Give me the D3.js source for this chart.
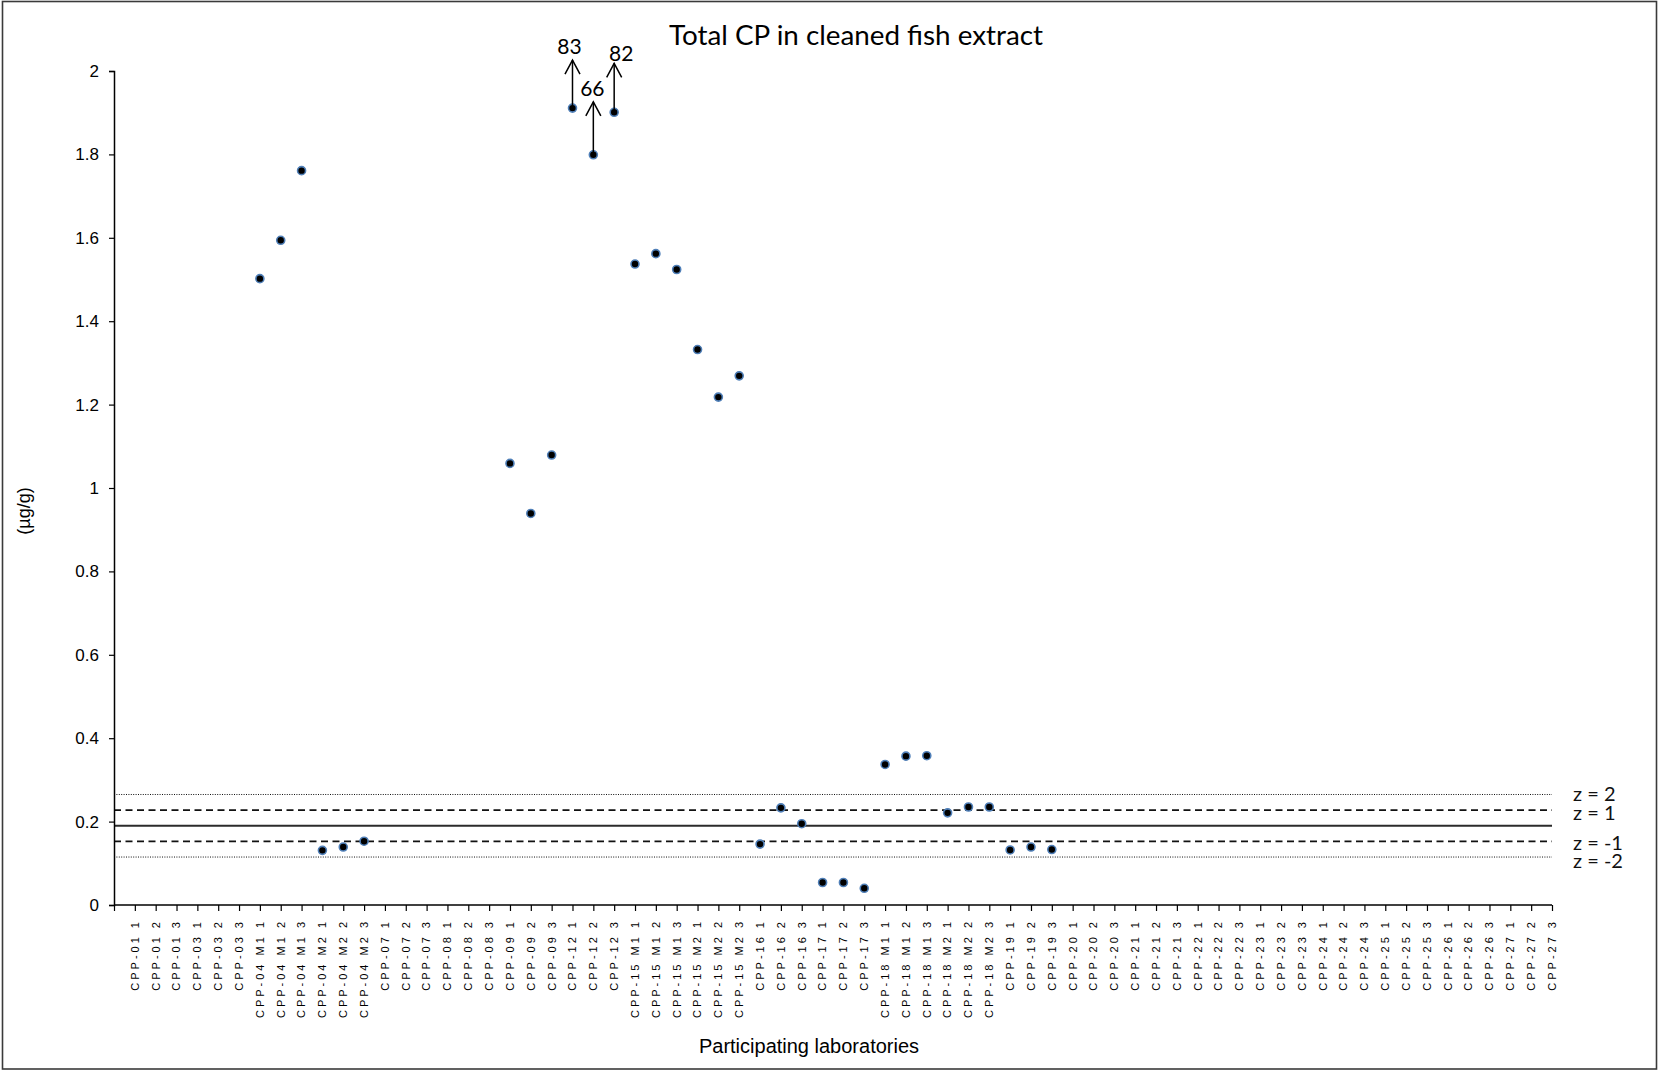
<!DOCTYPE html>
<html>
<head>
<meta charset="utf-8">
<script src="https://cdn.jsdelivr.net/npm/d3@7"></script>
<style>
  body { margin: 0; background: #fff; }
  svg { display: block; }
</style>
</head>
<body>
<div id="chart"></div>
<script>
// labs and replicate numbers -> category labels on the x axis
const labs = ["CPP-01", "CPP-03", "CPP-04 M1", "CPP-04 M2", "CPP-07", "CPP-08", "CPP-09", "CPP-12",
  "CPP-15 M1", "CPP-15 M2", "CPP-16", "CPP-17", "CPP-18 M1", "CPP-18 M2", "CPP-19", "CPP-20",
  "CPP-21", "CPP-22", "CPP-23", "CPP-24", "CPP-25", "CPP-26", "CPP-27"];
const replicates = [1, 2, 3];
const categories = labs.flatMap(l => replicates.map(r => l + " " + r));

// plotted value for every category (null = not reported)
const values = [
  null, null, null,        // CPP-01
  null, null, null,        // CPP-03
  1.502, 1.594, 1.761,     // CPP-04 M1
  0.131, 0.139, 0.153,     // CPP-04 M2
  null, null, null,        // CPP-07
  null, null, null,        // CPP-08
  1.059, 0.939, 1.079,     // CPP-09
  1.911, 1.799, 1.901,     // CPP-12 (off scale, see below)
  1.537, 1.562, 1.524,     // CPP-15 M1
  1.332, 1.218, 1.269,     // CPP-15 M2
  0.146, 0.233, 0.195,     // CPP-16
  0.054, 0.054, 0.040,     // CPP-17
  0.337, 0.357, 0.358,     // CPP-18 M1
  0.221, 0.235, 0.235,     // CPP-18 M2
  0.132, 0.139, 0.133,     // CPP-19
  null, null, null, null, null, null, null, null, null, null, null, null,  // CPP-20..23
  null, null, null, null, null, null, null, null, null, null, null, null   // CPP-24..27
];

// results above the axis maximum, shown with an arrow
const offScaleCats = ["CPP-12 1", "CPP-12 2", "CPP-12 3"];
const offScaleValues = [83, 66, 82];

// z-score lines
const zScores = [2, 1, 0, -1, -2];
const zValues = [0.265, 0.2275, 0.19, 0.1525, 0.115];

const yTicks = [0, 0.2, 0.4, 0.6, 0.8, 1, 1.2, 1.4, 1.6, 1.8, 2];

const W = 1659, H = 1071;
const svg = d3.select("#chart").append("svg")
  .attr("width", W).attr("height", H);

// frame
svg.append("rect")
  .attr("x", 2.5).attr("y", 1.5).attr("width", W - 5).attr("height", H - 3.5)
  .attr("fill", "none").attr("stroke", "#3a3a3a").attr("stroke-width", 1.6);

const x = d3.scaleLinear().domain([0, categories.length]).range([114, 1552]);
const y = d3.scaleLinear().domain([0, 2]).range([905, 71]);

// z lines
const lineStyle = {
  "2": {dash: "1,1.4", w: 1},
  "1": {dash: "7,4.5", w: 1.6},
  "0": {dash: null, w: 1.8},
  "-1": {dash: "7,4.5", w: 1.6},
  "-2": {dash: "1,1.4", w: 1}
};
const labelDy = {"2": 0, "1": 3, "0": 0, "-1": 2, "-2": 4};

zScores.forEach((z, i) => {
  const st = lineStyle[z];
  svg.append("line")
    .attr("x1", x(0)).attr("x2", x(categories.length))
    .attr("y1", y(zValues[i])).attr("y2", y(zValues[i]))
    .attr("stroke", z === 0 ? "#2b2b2b" : "#111")
    .attr("stroke-width", st.w)
    .attr("stroke-dasharray", st.dash);
  if (z !== 0) {
    svg.append("text")
      .attr("x", 1573).attr("y", y(zValues[i]) + labelDy[z])
      .attr("dy", "0.35em")
      .style("font-family", "Lato, 'Open Sans', sans-serif")
      .style("font-size", "20px")
      .attr("fill", "#111")
      .text("z = " + z);
  }
});

// y axis
const yAxis = d3.axisLeft(y).tickValues(yTicks).tickSize(5).tickPadding(10)
  .tickFormat(d => String(+d.toFixed(1)));
const gy = svg.append("g").attr("transform", "translate(" + x(0) + ",0)").call(yAxis);
gy.select(".domain").attr("stroke", "#000").attr("stroke-width", 1.5);
gy.selectAll(".tick line").attr("stroke", "#000").attr("stroke-width", 1.2);
gy.selectAll(".tick text")
  .style("font-family", "'Liberation Sans', Arial, sans-serif")
  .style("font-size", "17px").attr("fill", "#000");

// x axis
const xTickVals = d3.range(0, categories.length + 1);
const xAxis = d3.axisBottom(x).tickValues(xTickVals).tickSize(6).tickFormat("");
const gx = svg.append("g").attr("transform", "translate(0," + y(0) + ")").call(xAxis);
gx.select(".domain").attr("stroke", "#000").attr("stroke-width", 1.5)
  .attr("d", "M" + x(0) + ",0H" + x(categories.length));
gx.selectAll(".tick line").attr("stroke", "#000").attr("stroke-width", 1.2);

svg.append("g").selectAll("text")
  .data(categories)
  .join("text")
  .attr("transform", (d, i) => "translate(" + x(i + 1) + "," + (y(0) + 14) + ") rotate(-90)")
  .attr("text-anchor", "end")
  .attr("dy", "0.35em")
  .style("font-family", "'Liberation Sans', Arial, sans-serif")
  .style("font-size", "11px")
  .style("letter-spacing", "3px")
  .attr("fill", "#000")
  .text(d => d);

// points
const pts = values.map((v, i) => ({cat: categories[i], idx: i + 1, v: v})).filter(d => d.v != null);
svg.append("g").selectAll("circle")
  .data(pts)
  .join("circle")
  .attr("cx", d => x(d.idx))
  .attr("cy", d => y(d.v))
  .attr("r", 4)
  .attr("fill", "#000")
  .attr("stroke", "#4f7fb8")
  .attr("stroke-width", 1.6);

// arrows for off-scale results
const arrowLen = [48, 53, 49];
const labelNudge = [[-3, -13], [-1, -13], [7, -10]];
offScaleCats.forEach((c, k) => {
  const i = categories.indexOf(c);
  const px = x(i + 1), py = y(values[i]);
  const top = py - arrowLen[k];
  const g = svg.append("g").attr("stroke", "#000").attr("stroke-width", 1.5).attr("fill", "none");
  g.append("line").attr("x1", px).attr("x2", px).attr("y1", py).attr("y2", top);
  g.append("path").attr("d", "M" + (px - 7.5) + "," + (top + 14) + "L" + px + "," + top + "L" + (px + 7.5) + "," + (top + 14));
  svg.append("text")
    .attr("x", px + labelNudge[k][0]).attr("y", top + labelNudge[k][1])
    .attr("dy", "0.35em")
    .attr("text-anchor", "middle")
    .style("font-family", "Lato, 'Open Sans', sans-serif")
    .style("font-size", "21px")
    .attr("fill", "#000")
    .text(offScaleValues[k]);
});

// titles
svg.append("text")
  .attr("x", 856).attr("y", 35).attr("dy", "0.35em")
  .attr("text-anchor", "middle")
  .style("font-family", "Lato, 'Open Sans', sans-serif")
  .style("font-size", "27.8px")
  .attr("fill", "#000")
  .text("Total CP in cleaned fish extract");

svg.append("text")
  .attr("x", 809).attr("y", 1046).attr("dy", "0.35em")
  .attr("text-anchor", "middle")
  .style("font-family", "'Liberation Sans', Arial, sans-serif")
  .style("font-size", "20px")
  .attr("fill", "#000")
  .text("Participating laboratories");

svg.append("text")
  .attr("transform", "translate(24,511) rotate(-90)")
  .attr("dy", "0.35em")
  .attr("text-anchor", "middle")
  .style("font-family", "'Liberation Sans', Arial, sans-serif")
  .style("font-size", "18px")
  .attr("fill", "#000")
  .text("(µg/g)");
</script>
</body>
</html>
